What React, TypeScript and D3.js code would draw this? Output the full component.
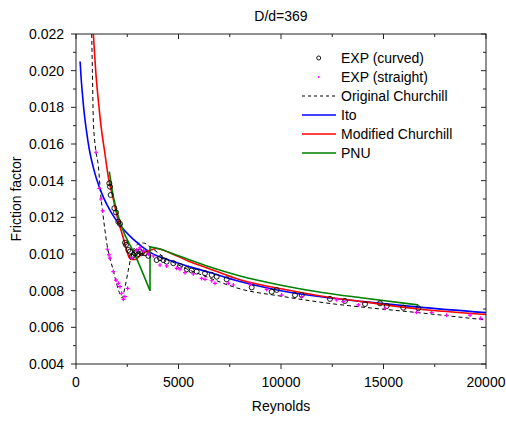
import React from "react";
import * as d3 from "d3";

const W = 506;
const H = 421;

const xTicks = [0, 5000, 10000, 15000, 20000];
const xMinor = [2500, 7500, 12500, 17500];
const yTicks = [0.004, 0.006, 0.008, 0.01, 0.012, 0.014, 0.016, 0.018, 0.02, 0.022];
const yMinor = [0.005, 0.007, 0.009, 0.011, 0.013, 0.015, 0.017, 0.019, 0.021];

const curvedRe = [1626, 1659, 1691, 1870, 1951, 2065, 2146, 2390, 2439, 2553, 2634, 2716, 2800, 2878, 2960, 3040, 3122, 3204, 3366, 3528, 3935, 4098, 4260, 4423, 4747, 5073, 5400, 5643, 5887, 6293, 6619, 6863, 7351, 8571, 9547, 9790, 10683, 11010, 12390, 13122, 14098, 14830, 15156, 15966, 16698];
const curvedF = [0.01386, 0.01367, 0.01322, 0.0125, 0.01227, 0.01176, 0.01164, 0.01062, 0.0105, 0.01022, 0.01013, 0.00985, 0.00995, 0.01004, 0.01013, 0.01, 0.01013, 0.01004, 0.01004, 0.0099, 0.00967, 0.00977, 0.00967, 0.00958, 0.0095, 0.00935, 0.00917, 0.0091, 0.00904, 0.00895, 0.00886, 0.00876, 0.00862, 0.00818, 0.00794, 0.00804, 0.00776, 0.00776, 0.00755, 0.00744, 0.00727, 0.00731, 0.00716, 0.00707, 0.00704];

const straightRe = [976, 1138, 1220, 1301, 1528, 1610, 1659, 1821, 1951, 2065, 2146, 2228, 2309, 2390, 2520, 2716, 2960, 3122, 3285, 3528, 3772, 4098, 4423, 4910, 5073, 5317, 5724, 6130, 6293, 6619, 6781, 7430, 7674, 8490, 9302, 10033, 11010, 12716, 13040, 13773, 15075, 16617, 17349, 18081, 19220, 19740];
const straightF = [0.01555, 0.01358, 0.013, 0.01235, 0.01026, 0.00995, 0.00977, 0.00904, 0.00858, 0.0084, 0.00822, 0.00786, 0.00753, 0.00767, 0.00813, 0.00978, 0.01022, 0.01033, 0.01016, 0.01, 0.00989, 0.0094, 0.00935, 0.00922, 0.00917, 0.00898, 0.00891, 0.00867, 0.00862, 0.00854, 0.0084, 0.0084, 0.00831, 0.00836, 0.00807, 0.00776, 0.00767, 0.0075, 0.0074, 0.00722, 0.00704, 0.00682, 0.00682, 0.00666, 0.00667, 0.00649];

const churchillRe = [765, 800, 845, 960, 1090, 1200, 1300, 1400, 1500, 1650, 1820, 2000, 2150, 2250, 2390, 2550, 2716, 2900, 3100, 3300, 3600, 4200, 5000, 6500, 8000, 10000, 12400, 14000, 16700, 20000];
const churchillF = [0.022, 0.02, 0.0173, 0.0157, 0.0148, 0.0133, 0.0123, 0.0114, 0.0106, 0.0098, 0.0091, 0.0083, 0.0078, 0.0076, 0.0082, 0.0091, 0.01, 0.0104, 0.0106, 0.0106, 0.0104, 0.0099, 0.0094, 0.0087, 0.0081, 0.0077, 0.0073, 0.0071, 0.0068, 0.0064];

const itoRe = [200, 250, 300, 400, 500, 650, 850, 1000, 1333, 1700, 2200, 2800, 3600, 5000, 6500, 8000, 10000, 12400, 14000, 16700, 20000];
const itoF = [0.0205, 0.0196, 0.0189, 0.0177, 0.0168, 0.0157, 0.0147, 0.0141, 0.0131, 0.0123, 0.0115, 0.0108, 0.0101, 0.0095, 0.009, 0.0085, 0.008, 0.0076, 0.0074, 0.0071, 0.0068];

const modRe = [845, 960, 1137, 1252, 1382, 1577, 1820, 2065, 2300, 2470, 2600, 2716, 2900, 3100, 3366, 3610, 3935, 4500, 5500, 6500, 8000, 10000, 12000, 14000, 16700, 20000];
const modF = [0.022, 0.02, 0.01785, 0.0167, 0.0157, 0.0142, 0.013, 0.0118, 0.0109, 0.0102, 0.0098, 0.0097, 0.0097, 0.0099, 0.0101, 0.0102, 0.0103, 0.0101, 0.0096, 0.0092, 0.0086, 0.0081, 0.0077, 0.0074, 0.007, 0.0067];

const pnuRe1 = [1625, 1820, 2228, 2878, 3610];
const pnuF1 = [0.01449, 0.01313, 0.01149, 0.00995, 0.008];
const pnuRe2 = [3610, 4000, 5000, 6500, 8000, 10000, 12000, 14000, 16700];
const pnuF2 = [0.0104, 0.0103, 0.0099, 0.0093, 0.0088, 0.0083, 0.0079, 0.0076, 0.00722];

const legendLabels = ["EXP (curved)", "EXP (straight)", "Original Churchill", "Ito", "Modified Churchill", "PNU"];

const FONT = "'Liberation Sans', Arial, sans-serif";

export default function App() {
  const left = 76, right = 486, top = 34, bottom = 364;
  const x = d3.scaleLinear().domain([0, 20000]).range([left, right]);
  const y = d3.scaleLinear().domain([0.004, 0.022]).range([bottom, top]);

  const mk = (re: number[], f: number[]) => re.map((r, i) => [r, f[i]] as [number, number]);
  const smooth = d3.line<[number, number]>().x(d => x(d[0])).y(d => y(d[1])).curve(d3.curveMonotoneX);
  const straight = d3.line<[number, number]>().x(d => x(d[0])).y(d => y(d[1]));

  const curved = mk(curvedRe, curvedF);
  const str = mk(straightRe, straightF);

  const legendX = 318;
  const legendRows = [58, 77, 96, 115, 134, 153];

  return (
    <svg width={W} height={H} style={{ position: "absolute", left: 0, top: 0, background: "#fff" }} fontFamily={FONT}>
      <defs>
        <clipPath id="plotclip">
          <rect x={left} y={top} width={right - left} height={bottom - top} />
        </clipPath>
      </defs>
      <text x={(left + right) / 2} y={21} textAnchor="middle" fontSize={14} fill="#000">D/d=369</text>

      <g clipPath="url(#plotclip)">
        <path d={smooth(mk(churchillRe, churchillF)) || ""} fill="none" stroke="#000" strokeWidth={1} strokeDasharray="4,3" />
        <path d={smooth(mk(itoRe, itoF)) || ""} fill="none" stroke="#0000ff" strokeWidth={1.6} />
        <path d={smooth(mk(modRe, modF)) || ""} fill="none" stroke="#ff0000" strokeWidth={1.6} />
        <path d={smooth(mk(pnuRe1, pnuF1)) || ""} fill="none" stroke="#008000" strokeWidth={1.6} />
        <path d={straight([[pnuRe1[pnuRe1.length - 1], pnuF1[pnuF1.length - 1]], [pnuRe2[0], pnuF2[0]]]) || ""} fill="none" stroke="#008000" strokeWidth={1.6} />
        <path d={smooth(mk(pnuRe2, pnuF2)) || ""} fill="none" stroke="#008000" strokeWidth={1.6} />
        {curved.map((d, i) => (
          <circle key={"c" + i} cx={x(d[0])} cy={y(d[1])} r={2.5} fill="none" stroke="#000" strokeWidth={0.9} />
        ))}
        {str.map((d, i) => (
          <path key={"s" + i} d={`M${x(d[0]) - 2},${y(d[1])}h4M${x(d[0])},${y(d[1]) - 2}v4`} stroke="#ff00ff" strokeWidth={1.2} />
        ))}
      </g>

      {/* frame */}
      <rect x={left} y={top} width={right - left} height={bottom - top} fill="none" stroke="#222" strokeWidth={1} />

      {/* x ticks */}
      {xTicks.map(t => (
        <g key={"xt" + t}>
          <line x1={x(t)} x2={x(t)} y1={bottom} y2={bottom + 5} stroke="#222" />
          <line x1={x(t)} x2={x(t)} y1={top} y2={top + 5} stroke="#222" />
          <text x={x(t)} y={387} textAnchor="middle" fontSize={14} fill="#000">{t}</text>
        </g>
      ))}
      {xMinor.map(t => (
        <g key={"xm" + t}>
          <line x1={x(t)} x2={x(t)} y1={bottom} y2={bottom + 3} stroke="#222" />
          <line x1={x(t)} x2={x(t)} y1={top} y2={top + 3} stroke="#222" />
        </g>
      ))}
      {yTicks.map(t => (
        <g key={"yt" + t}>
          <line x1={left - 5} x2={left} y1={y(t)} y2={y(t)} stroke="#222" />
          <line x1={right - 5} x2={right} y1={y(t)} y2={y(t)} stroke="#222" />
          <text x={64} y={y(t) + 5} textAnchor="end" fontSize={14} fill="#000">{t.toFixed(3)}</text>
        </g>
      ))}
      {yMinor.map(t => (
        <g key={"ym" + t}>
          <line x1={left - 3} x2={left} y1={y(t)} y2={y(t)} stroke="#222" />
          <line x1={right - 3} x2={right} y1={y(t)} y2={y(t)} stroke="#222" />
        </g>
      ))}

      <text x={(left + right) / 2} y={411} textAnchor="middle" fontSize={14} fill="#000">Reynolds</text>
      <text transform={`translate(21,${(top + bottom) / 2}) rotate(-90)`} textAnchor="middle" fontSize={14} fill="#000">Friction factor</text>

      {/* legend */}
      <circle cx={legendX + 0.7} cy={legendRows[0]} r={2} fill="none" stroke="#000" strokeWidth={0.9} />
      <circle cx={legendX + 0.7} cy={legendRows[1]} r={0.9} fill="#ff00ff" />
      <line x1={302} x2={336} y1={legendRows[2]} y2={legendRows[2]} stroke="#000" strokeWidth={1} strokeDasharray="3,3" />
      <line x1={302} x2={336} y1={legendRows[3]} y2={legendRows[3]} stroke="#0000ff" strokeWidth={1.6} />
      <line x1={302} x2={336} y1={legendRows[4]} y2={legendRows[4]} stroke="#ff0000" strokeWidth={1.6} />
      <line x1={302} x2={336} y1={legendRows[5]} y2={legendRows[5]} stroke="#008000" strokeWidth={1.6} />
      {legendLabels.map((l, i) => (
        <text key={l} x={341} y={legendRows[i] + 5} fontSize={14} fill="#000">{l}</text>
      ))}
    </svg>
  );
}
